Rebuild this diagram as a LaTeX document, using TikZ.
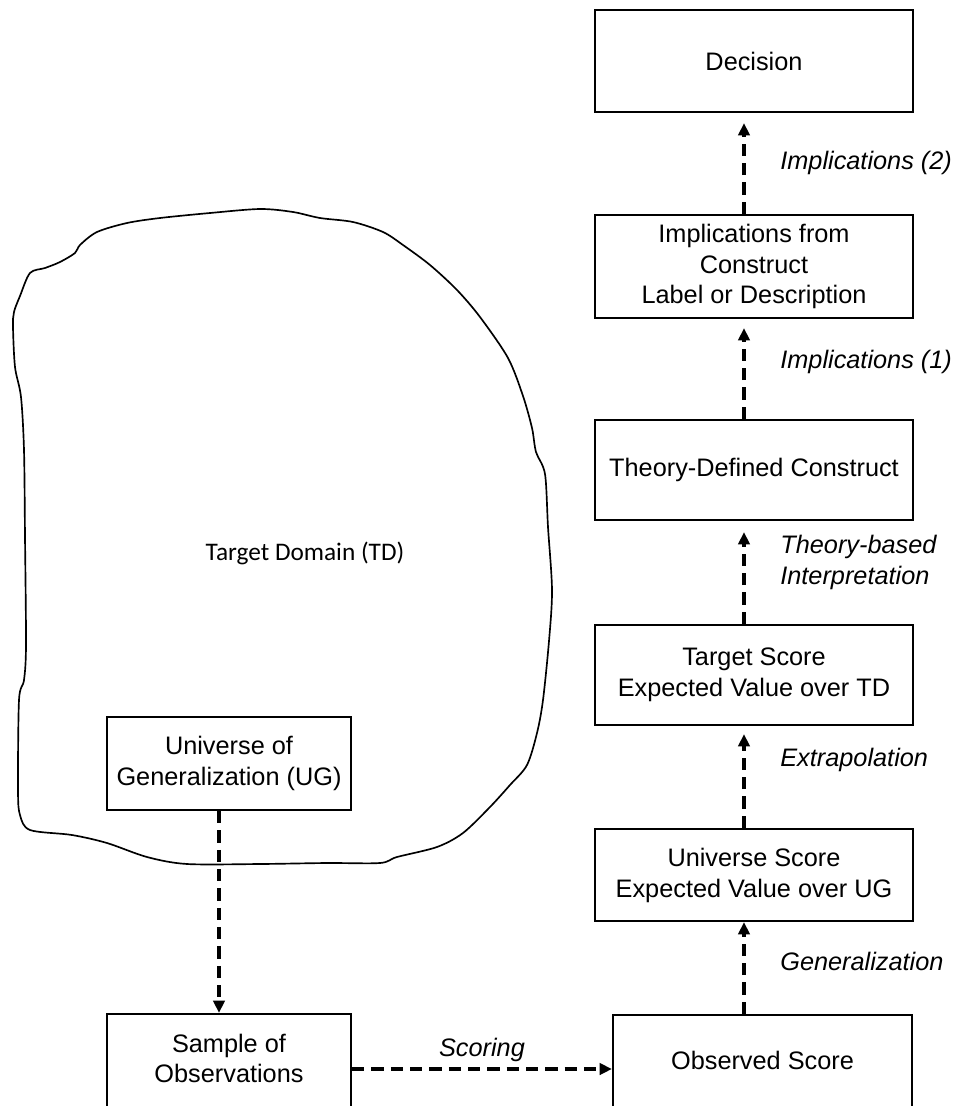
\documentclass[tikz,border=0pt]{standalone}
\usepackage{fontspec}
\setmainfont{Liberation Sans}
\newfontfamily\calfont{Carlito}
\usetikzlibrary{arrows.meta}

\newcommand\diagfont{\fontsize{14.4}{17.6}\selectfont}

\tikzset{
  stagebox/.style={draw, line width=1.3pt, minimum width=6.36cm, align=center, inner sep=2pt, font=\diagfont},
  flowarrow/.style={line width=1.8pt, dash pattern=on 7pt off 4pt, -{Triangle[length=7pt,width=6.5pt]}},
  steplabel/.style={anchor=west, align=left, inner sep=0pt, font=\diagfont\itshape},
}

\begin{document}
\begin{tikzpicture}[x=0.02cm, y=-0.02cm]
    \useasboundingbox (0,0) rectangle (959,1106);
    \coordinate (ax) at (744,0);
    \coordinate (bx) at (219,0);

    % target domain outline
    \draw[line width=0.95pt] plot[smooth cycle, tension=0.5] coordinates {
        (14,312) (20,296) (30,273) (45,268) (60,262) (75,253) (80,245) (97,232)
        (127,223) (160,218) (210,213) (260,209) (293,212) (320,218) (353,222)
        (383,232) (403,245) (430,265) (457,290) (480,317) (508,358) (523,396)
        (532,428) (536,452) (545,474) (548,527) (552,590) (549,641) (543,700)
        (537,733) (527,765) (510,785) (490,807) (463,833) (437,847) (397,857)
        (380,863) (327,863) (260,864) (187,864) (147,857) (107,843) (72,835)
        (30,830) (20,815) (18,790) (19,700) (24,680) (26,645) (25,536) (24,450)
        (21,397) (15,367) (13,327)};
    \node (td) at (305,553) {\calfont\diagfont Target Domain (TD)};

    % boxes
    \node[stagebox, minimum height=2.04cm] (dec) at (754,61) {Decision};
    \node[stagebox, minimum height=2.06cm] (impl) at (754,266.5) {Implications from\\Construct\\Label or Description};
    \node[stagebox, minimum height=2cm] (tdc) at (754,470) {Theory-Defined Construct};
    \node[stagebox, minimum height=2cm] (ts) at (754,675) {Target Score\\Expected Value over TD};
    \node[stagebox, minimum height=1.84cm] (us) at (754,875) {Universe Score\\Expected Value over UG};
    \node[stagebox, minimum width=5.98cm, inner sep=0pt, text height=1.08cm, text depth=1.6cm, anchor=base] (obs) at (762.5,1069) {Observed Score};
    \node[stagebox, minimum width=4.88cm, minimum height=1.86cm] (ug) at (229,763.5) {Universe of\\Generalization (UG)};
    \node[stagebox, minimum width=4.88cm, inner sep=0pt, text height=0.76cm, text depth=1.6cm, anchor=base] (sam) at (229,1052) {\begin{tabular}[t]{@{}c@{}}Sample of\\Observations\end{tabular}};

    % arrows
    \draw[flowarrow] (ug.south -| bx) -- (sam.north -| bx);
    \draw[flowarrow] (sam.east |- obs.base west) -- node[above, font=\diagfont\itshape] (lscore) {Scoring} (obs.base west);
    \draw[flowarrow] (obs.north -| ax) -- (us.south -| ax);
    \draw[flowarrow, shorten >=0.16cm] (us.north -| ax) -- (ts.south -| ax);
    \draw[flowarrow, shorten >=0.22cm] (ts.north -| ax) -- (tdc.south -| ax);
    \draw[flowarrow, shorten >=0.18cm] (tdc.north -| ax) -- (impl.south -| ax);
    \draw[flowarrow, shorten >=0.2cm] (impl.north -| ax) -- (dec.south -| ax);

%labels
    \node[steplabel] (lgen) at (780,961) {Generalization};
    \node[steplabel] (lext) at (780,760) {Extrapolation};
    \node[steplabel] (lthe) at (780,562.5) {Theory-based\\Interpretation};
    \node[steplabel] (limp1) at (780,362) {Implications (1)};
    \node[steplabel] (limp2) at (780,163) {Implications (2)};

\end{tikzpicture}
\end{document}
